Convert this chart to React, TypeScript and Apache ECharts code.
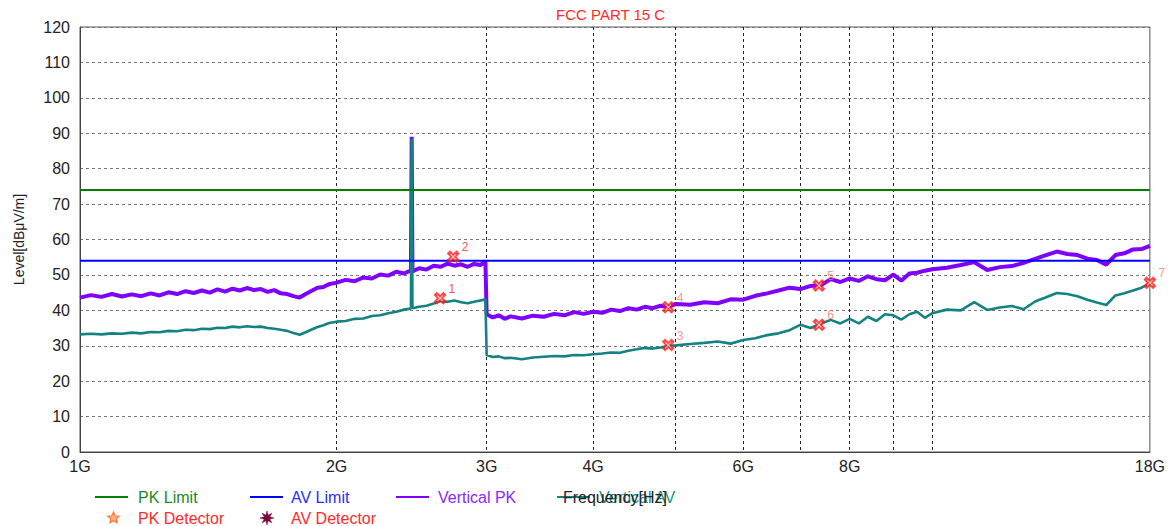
import React, { useEffect, useRef } from "react";
import * as echarts from "echarts";

// ---- data (GHz / dBµV/m) ----
const freqGHz = [
  1.0, 1.03, 1.06, 1.09, 1.12, 1.15, 1.18, 1.21, 1.24, 1.27, 1.3, 1.33, 1.36, 1.39, 1.42, 1.45, 1.48,
  1.51, 1.54, 1.57, 1.6, 1.63, 1.66, 1.69, 1.72, 1.75, 1.78, 1.81, 1.84, 1.87, 1.9, 1.93, 1.96, 2.0,
  2.05, 2.1, 2.15, 2.2, 2.25, 2.3, 2.35, 2.4, 2.445, 2.45, 2.455, 2.5, 2.55, 2.6, 2.65, 2.7, 2.75,
  2.8, 2.85, 2.9, 2.95, 2.99,
  3.0, 3.05, 3.1, 3.15, 3.2, 3.3, 3.4, 3.5, 3.6, 3.7, 3.8, 3.9, 4.0, 4.1, 4.2, 4.3, 4.4, 4.5, 4.6,
  4.7, 4.8, 4.9, 5.0,
  5.2, 5.4, 5.6, 5.8, 6.0, 6.2, 6.4, 6.6, 6.8, 7.0, 7.2, 7.4, 7.6, 7.8, 8.0, 8.2, 8.4, 8.6, 8.8,
  9.0, 9.2, 9.4, 9.6, 9.8, 10.0,
  10.4, 10.8, 11.2, 11.6, 12.0, 12.4, 12.8, 13.2, 13.6, 14.0, 14.4, 14.8, 15.2, 15.6, 16.0, 16.4,
  16.8, 17.2, 17.6, 18.0,
];

const verticalPK = [
  43.6, 44.3, 43.8, 44.6, 43.9, 44.5, 44.0, 44.8, 44.2, 45.1, 44.6, 45.4, 44.9, 45.6, 45.0, 45.9, 45.3,
  46.1, 45.6, 46.3, 45.7, 46.0, 45.2, 45.7, 44.8, 44.6, 44.0, 43.6, 44.6, 45.5, 46.4, 46.6, 47.4, 47.8,
  48.6, 48.2, 49.3, 49.0, 50.1, 49.8, 50.9, 50.4, 51.3, 89.0, 51.0, 51.9, 51.5, 52.6, 52.3, 53.2, 52.6,
  53.0, 52.3, 53.1, 52.8, 53.8,
  38.9, 38.0, 38.6, 37.6, 38.3, 37.7, 38.5, 38.2, 39.0, 38.6, 39.5, 39.0, 39.6, 39.3, 40.2, 39.8, 40.6,
  40.2, 41.0, 40.6, 41.3, 40.9, 41.8,
  41.6, 42.3, 42.0, 43.1, 43.0, 44.1, 44.8, 45.6, 46.4, 46.0, 46.9, 47.1, 48.8, 48.0, 49.0, 48.3, 49.6,
  48.8, 48.5, 50.1, 48.4, 50.4, 50.6, 51.2, 51.6,
  52.0, 52.8, 53.6, 51.4, 52.2, 52.5, 53.4, 54.5, 55.6, 56.6, 55.9, 55.6, 54.6, 54.2, 52.9, 55.6, 56.1,
  57.2, 57.3, 58.2,
];

const verticalAV = [
  33.2, 33.4, 33.2, 33.5, 33.4, 33.7, 33.5, 33.9, 33.8, 34.2, 34.1, 34.5, 34.4, 34.8, 34.7, 35.1, 35.0,
  35.4, 35.2, 35.5, 35.3, 35.4, 35.0, 34.8, 34.5, 34.2, 33.6, 33.1, 33.8, 34.6, 35.3, 35.8, 36.4, 36.8,
  37.0, 37.6, 37.7, 38.4, 38.6, 39.2, 39.6, 40.2, 40.5, 88.5, 40.6, 41.0, 41.3, 41.9, 42.6, 42.4, 42.8,
  42.3, 42.0, 42.4, 42.8, 43.1,
  27.4, 26.8, 27.0, 26.5, 26.6, 26.2, 26.7, 26.9, 27.1, 27.0, 27.4, 27.3, 27.6, 27.8, 28.1, 28.0, 28.6,
  29.0, 29.4, 29.2, 29.5, 30.0, 30.1,
  30.5, 30.8, 31.2, 30.6, 31.6, 32.1, 33.0, 33.5, 34.4, 35.9, 35.0, 36.2, 37.3, 36.3, 37.6, 36.3, 38.2,
  37.0, 38.9, 38.6, 37.4, 38.9, 39.6, 37.9, 39.2,
  40.2, 40.0, 42.3, 40.1, 40.8, 41.2, 40.3, 42.5, 43.7, 44.9, 44.6, 44.0, 43.0, 42.2, 41.5, 44.2, 44.8,
  45.6, 46.4, 47.6,
];

const pkLimitLevel = 74;
const avLimitLevel = 54;
const rangeGHz = [1, 18];

const markerFreq = [2.645, 2.741, 4.9, 4.9, 7.36, 7.36, 18.0];
const markerLevel = [43.4, 55.1, 30.2, 40.9, 47.0, 35.9, 47.8];
const markerNames = ["1", "2", "3", "4", "5", "6", "7"];
const markerLabelColors = ["#ff2020", "#ff2020", "#ff7a6a", "#ff7a6a", "#ff7a6a", "#ff7a6a", "#ff7a5a"];

const xLabelGHz = [1, 2, 3, 4, 6, 8, 18];
const xGridGHz = [2, 3, 4, 5, 6, 7, 8, 9, 10];

const FONT = "Arial, 'Liberation Sans', sans-serif";

function starPoints(cx: number, cy: number, rOut: number, rIn: number, n: number) {
  const pts: number[][] = [];
  for (let i = 0; i < n * 2; i++) {
    const r = i % 2 === 0 ? rOut : rIn;
    const a = -Math.PI / 2 + (i * Math.PI) / n;
    pts.push([cx + r * Math.cos(a), cy + r * Math.sin(a)]);
  }
  return pts;
}

export default function App() {
  const ref = useRef<HTMLDivElement>(null);

  useEffect(() => {
    if (!ref.current) return;
    const chart = echarts.init(ref.current, undefined, { renderer: "svg" });
    const lx = (g: number) => Math.log10(g);
    const xMin = lx(rangeGHz[0]);
    const xMax = lx(rangeGHz[1]);

    const legendRow1 = 497;
    const legendRow2 = 518;
    const legendText = (x: number, y: number, text: string, color: string) => ({
      type: "text",
      x,
      y,
      style: { text, fill: color, font: `16px ${FONT}`, textVerticalAlign: "middle", verticalAlign: "middle" },
    });
    const legendLine = (x1: number, x2: number, y: number, color: string) => ({
      type: "line",
      shape: { x1, y1: y, x2, y2: y },
      style: { stroke: color, lineWidth: 2 },
    });

    const option: any = {
      animation: false,
      backgroundColor: "#ffffff",
      title: {
        text: "FCC PART 15 C",
        left: 556,
        top: 7,
        padding: 0,
        textStyle: { color: "#ff2a2a", fontSize: 15, fontWeight: "normal", fontFamily: FONT },
      },
      grid: {
        left: 80,
        right: 18,
        top: 27,
        bottom: 74,
        show: true,
        borderColor: "#555",
        borderWidth: 1,
        containLabel: false,
      },
      xAxis: {
        type: "value",
        min: xMin,
        max: xMax,
        name: "Frequency[Hz]",
        nameLocation: "middle",
        nameGap: 37,
        nameTextStyle: { color: "#222", fontSize: 16, fontFamily: FONT },
        axisLine: { show: true, lineStyle: { color: "#444", width: 1 } },
        axisTick: { show: false, customValues: xGridGHz.map(lx) },
        axisLabel: {
          customValues: xLabelGHz.map(lx),
          formatter: (v: number) => Math.round(Math.pow(10, v)) + "G",
          color: "#222",
          fontSize: 16,
          fontFamily: FONT,
          margin: 6,
        },
        splitLine: { show: true, lineStyle: { color: "#222", type: [3, 3], width: 1 } },
      },
      yAxis: {
        type: "value",
        min: 0,
        max: 120,
        interval: 10,
        name: "Level[dBμV/m]",
        nameLocation: "middle",
        nameGap: 54,
        nameTextStyle: { color: "#222", fontSize: 14, fontFamily: FONT },
        axisLine: { show: true, lineStyle: { color: "#444", width: 1 } },
        axisTick: { show: false },
        axisLabel: { color: "#222", fontSize: 16, fontFamily: FONT, margin: 10 },
        splitLine: { show: true, lineStyle: { color: "#777", type: [3, 3], width: 1 } },
      },
      series: [
        {
          name: "Vertical PK",
          type: "line",
          symbol: "none",
          data: freqGHz.map((f, i) => [lx(f), verticalPK[i]]),
          lineStyle: { color: "#7f00ff", width: 4, join: "bevel" },
          itemStyle: { color: "#7f00ff" },
          z: 2,
        },
        {
          name: "Vertical AV",
          type: "line",
          symbol: "none",
          data: freqGHz.map((f, i) => [lx(f), verticalAV[i]]),
          lineStyle: { color: "#148282", width: 2.6, join: "bevel" },
          itemStyle: { color: "#148282" },
          z: 3,
        },
        {
          name: "PK Limit",
          type: "line",
          symbol: "none",
          data: rangeGHz.map((g) => [lx(g), pkLimitLevel]),
          lineStyle: { color: "#008000", width: 2 },
          itemStyle: { color: "#008000" },
          z: 4,
        },
        {
          name: "AV Limit",
          type: "line",
          symbol: "none",
          data: rangeGHz.map((g) => [lx(g), avLimitLevel]),
          lineStyle: { color: "#0000ff", width: 2 },
          itemStyle: { color: "#0000ff" },
          z: 4,
        },
        {
          name: "Markers",
          type: "scatter",
          symbol: "path://M0 2.5L2.5 0L5 2.5L7.5 0L10 2.5L7.5 5L10 7.5L7.5 10L5 7.5L2.5 10L0 7.5L2.5 5Z",
          symbolSize: 13,
          itemStyle: { color: "#ff1a1a" },
          z: 5,
          data: markerFreq.map((f, i) => ({
            value: [lx(f), markerLevel[i]],
            label: { color: markerLabelColors[i] },
          })),
          label: {
            show: true,
            position: [15, -9],
            formatter: (p: any) => markerNames[p.dataIndex],
            fontSize: 12,
            fontFamily: FONT,
          },
        },
        {
          name: "MarkersInner",
          type: "scatter",
          silent: true,
          symbol: "path://M0 1L1 0L5 4L9 0L10 1L6 5L10 9L9 10L5 6L1 10L0 9L4 5Z",
          symbolSize: 6,
          itemStyle: { color: "#ffffff", opacity: 0.85 },
          z: 6,
          data: markerFreq.map((f, i) => [lx(f), markerLevel[i]]),
        },
      ],
      graphic: [
        legendLine(95, 128, legendRow1, "#008000"),
        legendText(138, legendRow1, "PK Limit", "#1e8a1e"),
        legendLine(250, 283, legendRow1, "#0000ff"),
        legendText(291, legendRow1, "AV Limit", "#2a2aff"),
        legendLine(396, 429, legendRow1, "#7f00ff"),
        legendText(438, legendRow1, "Vertical PK", "#8a2aff"),
        legendLine(557, 590, legendRow1, "#148282"),
        legendText(599, legendRow1, "Vertical AV", "#1a9090"),
        {
          type: "polygon",
          shape: { points: starPoints(113.5, legendRow2, 6, 2.8, 5) },
          style: { fill: "#ffb080", stroke: "#ff7a3a", lineWidth: 1.2 },
        },
        legendText(138, legendRow2, "PK Detector", "#ff2a2a"),
        {
          type: "polygon",
          shape: { points: starPoints(267, legendRow2, 7, 3, 8) },
          style: { fill: "#7a0a3a", stroke: "#7a0a3a", lineWidth: 0.5 },
        },
        legendText(291, legendRow2, "AV Detector", "#ff2a2a"),
      ],
    };

    chart.setOption(option);
    return () => chart.dispose();
  }, []);

  return (
    <div
      ref={ref}
      style={{ position: "fixed", left: 0, top: 0, width: 1168, height: 526, background: "#fff" }}
    />
  );
}
